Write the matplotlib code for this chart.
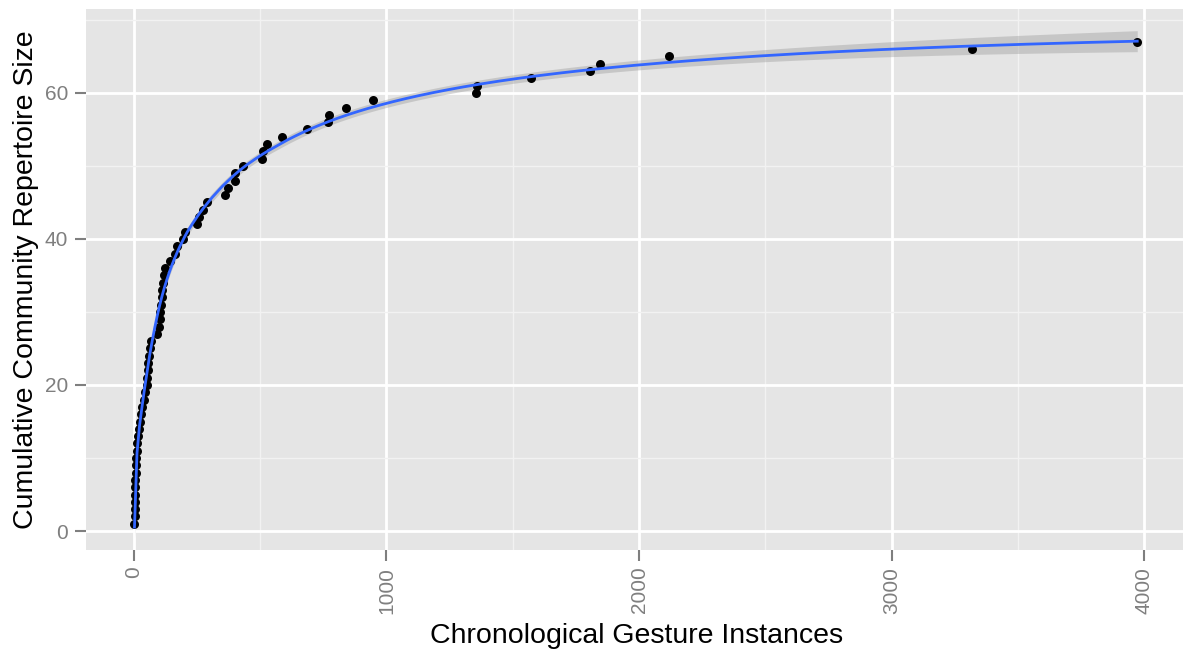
#!/usr/bin/env python3

import numpy as np
import matplotlib
matplotlib.use("Agg")
import matplotlib.pyplot as plt

# cumulative repertoire size vs. gesture instance index
repertoire = list(range(1, 68))
instances = [2, 3, 4, 5, 5, 6, 6, 7, 7, 8,
             10, 12, 15, 19, 23, 27, 32, 38, 45, 50,
             53, 55, 57, 59, 62, 66, 93, 100, 102, 104,
             107, 109, 112, 116, 120, 124, 142, 162, 169, 195,
             204, 248, 259, 275, 288, 360, 373, 400, 402, 433,
             505, 512, 528, 585, 684, 770, 772, 840, 948, 1353,
             1360, 1571, 1807, 1846, 2117, 3320, 3973]

x_ticks = [0, 1000, 2000, 3000, 4000]
y_ticks = [0, 20, 40, 60]


def loess_rows(lx, points, k):
    # rows of the local quadratic smoother matrix (tricube weights)
    n = len(lx)
    L = np.zeros((len(points), n))
    for i, t in enumerate(points):
        d = np.abs(lx - t)
        h = np.sort(d)[k - 1] * 1.0001
        w = np.clip(1 - (d / h) ** 3, 0, None) ** 3
        X = np.column_stack([np.ones(n), lx - t, (lx - t) ** 2])
        XtW = X.T * w
        L[i] = np.linalg.solve(XtW @ X, XtW)[0]
    return L


def loess(x, y, xs, span=0.6):
    # smooth on log(x), returns fit and ~95% band
    lx = np.log(x)
    k = int(np.ceil(span * len(x)))
    L = loess_rows(lx, np.log(xs), k)
    H = loess_rows(lx, lx, k)
    resid = y - H @ y
    sigma2 = resid @ resid / (len(x) - np.trace(H))
    se = np.sqrt(sigma2 * np.sum(L ** 2, axis=1))
    return L @ y, 2.0 * se


x = np.array(instances, dtype=float)
y = np.array(repertoire, dtype=float)
xs = np.linspace(x.min(), x.max(), 400)
fit, band = loess(x, y, xs)

plt.rcParams['font.family'] = ['Liberation Sans', 'DejaVu Sans']

fig = plt.figure(figsize=(11.83, 6.57), dpi=100)
ax = fig.add_axes([86 / 1183, 107 / 657, 1102 / 1183, 541 / 657])
ax.set_facecolor('#E5E5E5')

ax.set_xticks(x_ticks)
ax.set_yticks(y_ticks)
ax.set_xticks([500, 1500, 2500, 3500], minor=True)
ax.set_yticks([10, 30, 50, 70], minor=True)
ax.grid(which='major', color='white', linewidth=2.0)
ax.grid(which='minor', color='#F2F2F2', linewidth=1.0)
ax.set_axisbelow(True)

ax.fill_between(xs, fit - band, fit + band, color='#999999', alpha=0.4, linewidth=0, zorder=2)
ax.scatter(x, y, s=42, color='black', zorder=3, linewidths=0)
ax.plot(xs, fit, color='#3366FF', linewidth=2.0, zorder=4)

ax.set_xlim(-190, 4174)
ax.set_ylim(-2.6, 71.5)

for s in ax.spines.values():
    s.set_visible(False)

ax.tick_params(axis='both', which='major', color='#7F7F7F', length=8, width=1.5,
               labelcolor='#7F7F7F', labelsize=15)
ax.tick_params(axis='x', pad=4)
ax.tick_params(axis='y', pad=5)
ax.tick_params(which='minor', length=0)
plt.setp(ax.get_xticklabels(), rotation=90, va='top', ha='center')

ax.set_xlabel('Chronological Gesture Instances', fontsize=20.5, labelpad=7)
ax.set_ylabel('Cumulative Community Repertoire Size', fontsize=20.5, labelpad=4)

fig.savefig('out.png', dpi=100)
